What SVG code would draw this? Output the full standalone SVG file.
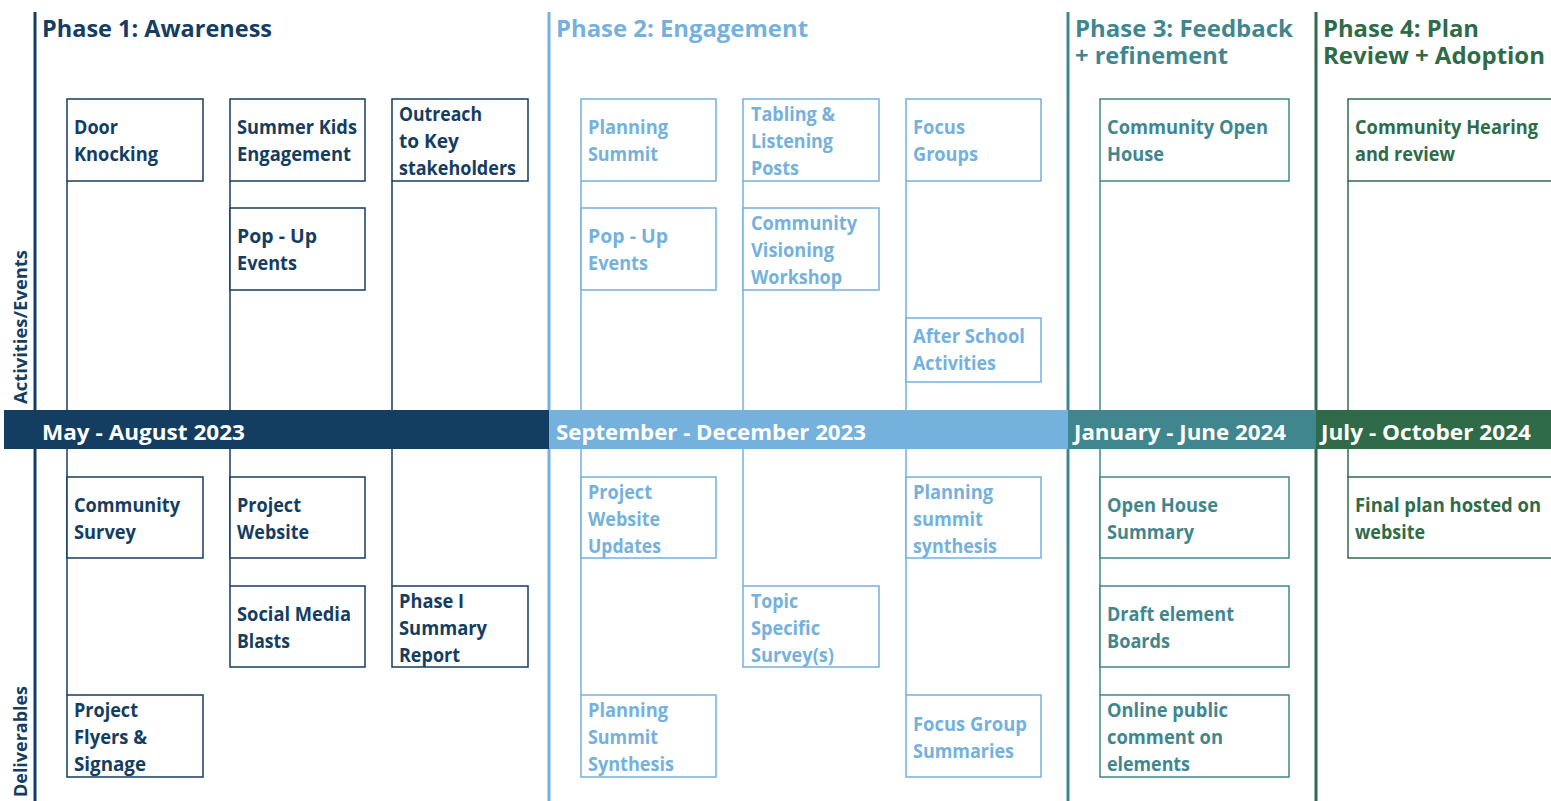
<svg xmlns="http://www.w3.org/2000/svg" width="1551" height="801" viewBox="0 0 1551 801">
<style>
text{font-family:"Open Sans","Noto Sans","Liberation Sans",sans-serif;font-weight:700}
.t{font-size:23px}
.b{font-size:22px;fill:#fff}
.n{font-size:19px}
.side{font-size:18px;fill:#143d62}
rect.box{fill:#fff;stroke-width:1.5}
.p1 rect.box{stroke:#143d62}.p1 text{fill:#143d62}
.p2 rect.box{stroke:#75b1dd}.p2 text{fill:#75b1dd}
.p3 rect.box{stroke:#3f868f}.p3 text{fill:#3f868f}
.p4 rect.box{stroke:#2f6b48}.p4 text{fill:#2f6b48}
.c1{stroke:#143d62;stroke-width:1.5}.c2{stroke:#75b1dd;stroke-width:1.5}.c3{stroke:#3f868f;stroke-width:1.5}.c4{stroke:#2f6b48;stroke-width:1.5}
.ph{stroke-width:3}
</style>
<rect width="1551" height="801" fill="#fff"/>

<!-- phase dividers -->
<g id="phase-lines">
<line class="ph" x1="35" y1="12" x2="35" y2="801" stroke="#143d62"/>
<line class="ph" x1="549" y1="12" x2="549" y2="801" stroke="#75b1dd"/>
<line class="ph" x1="1068" y1="12" x2="1068" y2="801" stroke="#3f868f"/>
<line class="ph" x1="1316" y1="12" x2="1316" y2="801" stroke="#2f6b48"/>
</g>

<!-- titles -->
<g id="titles">
<text class="t" x="42" y="37" fill="#143d62" textLength="230" lengthAdjust="spacingAndGlyphs">Phase 1: Awareness</text>
<text class="t" x="556" y="37" fill="#75b1dd" textLength="252" lengthAdjust="spacingAndGlyphs">Phase 2: Engagement</text>
<text class="t" x="1075" y="37" fill="#3f868f" textLength="218" lengthAdjust="spacingAndGlyphs">Phase 3: Feedback</text>
<text class="t" x="1075" y="64" fill="#3f868f" textLength="153" lengthAdjust="spacingAndGlyphs">+ refinement</text>
<text class="t" x="1323" y="37" fill="#2f6b48" textLength="156" lengthAdjust="spacingAndGlyphs">Phase 4: Plan</text>
<text class="t" x="1323" y="64" fill="#2f6b48" textLength="222" lengthAdjust="spacingAndGlyphs">Review + Adoption</text>
</g>

<g id="side-labels">
<text class="side" transform="translate(27,404) rotate(-90)" textLength="154" lengthAdjust="spacingAndGlyphs">Activities/Events</text>
<text class="side" transform="translate(27,797) rotate(-90)" textLength="111" lengthAdjust="spacingAndGlyphs">Deliverables</text>
</g>

<!-- connectors -->
<g id="connectors">
<line class="c1" x1="67" y1="181" x2="67" y2="695"/>
<line class="c1" x1="230" y1="181" x2="230" y2="586"/>
<line class="c1" x1="392" y1="181" x2="392" y2="586"/>
<line class="c2" x1="581" y1="181" x2="581" y2="695"/>
<line class="c2" x1="743" y1="181" x2="743" y2="586"/>
<line class="c2" x1="906" y1="181" x2="906" y2="695"/>
<line class="c3" x1="1100" y1="181" x2="1100" y2="695"/>
<line class="c4" x1="1348" y1="181" x2="1348" y2="477"/>
</g>

<!-- timeline band -->
<g id="band">
<rect x="4" y="410" width="545" height="39" fill="#143d62"/>
<rect x="549" y="410" width="519" height="39" fill="#75b1dd"/>
<rect x="1068" y="410" width="248" height="39" fill="#3f868f"/>
<rect x="1316" y="410" width="235" height="39" fill="#2f6b48"/>
<text class="b" x="42" y="440" textLength="203" lengthAdjust="spacingAndGlyphs">May - August 2023</text>
<text class="b" x="556" y="440" textLength="310" lengthAdjust="spacingAndGlyphs">September - December 2023</text>
<text class="b" x="1074" y="440" textLength="212" lengthAdjust="spacingAndGlyphs">January - June 2024</text>
<text class="b" x="1321" y="440" textLength="210" lengthAdjust="spacingAndGlyphs">July - October 2024</text>
</g>

<!-- Phase 1 nodes -->
<g id="door-knocking" class="p1"><rect class="box" x="67" y="99" width="136" height="82"/>
<text class="n" x="74" y="134" textLength="44" lengthAdjust="spacingAndGlyphs">Door</text><text class="n" x="74" y="161" textLength="84" lengthAdjust="spacingAndGlyphs">Knocking</text></g>
<g id="summer-kids" class="p1"><rect class="box" x="230" y="99" width="135" height="82"/>
<text class="n" x="237" y="134" textLength="120" lengthAdjust="spacingAndGlyphs">Summer Kids</text><text class="n" x="237" y="161" textLength="114" lengthAdjust="spacingAndGlyphs">Engagement</text></g>
<g id="outreach" class="p1"><rect class="box" x="392" y="99" width="136" height="82"/>
<text class="n" x="399" y="121" textLength="83" lengthAdjust="spacingAndGlyphs">Outreach</text><text class="n" x="399" y="148" textLength="60" lengthAdjust="spacingAndGlyphs">to Key</text><text class="n" x="399" y="175" textLength="117" lengthAdjust="spacingAndGlyphs">stakeholders</text></g>
<g id="popup-1" class="p1"><rect class="box" x="230" y="208" width="135" height="82"/>
<text class="n" x="237" y="243" textLength="80" lengthAdjust="spacingAndGlyphs">Pop - Up</text><text class="n" x="237" y="270" textLength="60" lengthAdjust="spacingAndGlyphs">Events</text></g>
<g id="community-survey" class="p1"><rect class="box" x="67" y="477" width="136" height="81"/>
<text class="n" x="74" y="512" textLength="106" lengthAdjust="spacingAndGlyphs">Community</text><text class="n" x="74" y="539" textLength="62" lengthAdjust="spacingAndGlyphs">Survey</text></g>
<g id="project-website" class="p1"><rect class="box" x="230" y="477" width="135" height="81"/>
<text class="n" x="237" y="512" textLength="64" lengthAdjust="spacingAndGlyphs">Project</text><text class="n" x="237" y="539" textLength="72" lengthAdjust="spacingAndGlyphs">Website</text></g>
<g id="social-media" class="p1"><rect class="box" x="230" y="586" width="135" height="81"/>
<text class="n" x="237" y="621" textLength="114" lengthAdjust="spacingAndGlyphs">Social Media</text><text class="n" x="237" y="648" textLength="53" lengthAdjust="spacingAndGlyphs">Blasts</text></g>
<g id="phase1-report" class="p1"><rect class="box" x="392" y="586" width="136" height="81"/>
<text class="n" x="399" y="608" textLength="65" lengthAdjust="spacingAndGlyphs">Phase I</text><text class="n" x="399" y="635" textLength="88" lengthAdjust="spacingAndGlyphs">Summary</text><text class="n" x="399" y="662" textLength="61" lengthAdjust="spacingAndGlyphs">Report</text></g>
<g id="flyers" class="p1"><rect class="box" x="67" y="695" width="136" height="82"/>
<text class="n" x="74" y="717" textLength="64" lengthAdjust="spacingAndGlyphs">Project</text><text class="n" x="74" y="744" textLength="73" lengthAdjust="spacingAndGlyphs">Flyers &amp;</text><text class="n" x="74" y="771" textLength="72" lengthAdjust="spacingAndGlyphs">Signage</text></g>

<!-- Phase 2 nodes -->
<g id="planning-summit" class="p2"><rect class="box" x="581" y="99" width="135" height="82"/>
<text class="n" x="588" y="134" textLength="80" lengthAdjust="spacingAndGlyphs">Planning</text><text class="n" x="588" y="161" textLength="70" lengthAdjust="spacingAndGlyphs">Summit</text></g>
<g id="tabling" class="p2"><rect class="box" x="743" y="99" width="136" height="82"/>
<text class="n" x="751" y="121" textLength="84" lengthAdjust="spacingAndGlyphs">Tabling &amp;</text><text class="n" x="751" y="148" textLength="82" lengthAdjust="spacingAndGlyphs">Listening</text><text class="n" x="751" y="175" textLength="48" lengthAdjust="spacingAndGlyphs">Posts</text></g>
<g id="focus-groups" class="p2"><rect class="box" x="906" y="99" width="135" height="82"/>
<text class="n" x="913" y="134" textLength="52" lengthAdjust="spacingAndGlyphs">Focus</text><text class="n" x="913" y="161" textLength="65" lengthAdjust="spacingAndGlyphs">Groups</text></g>
<g id="popup-2" class="p2"><rect class="box" x="581" y="208" width="135" height="82"/>
<text class="n" x="588" y="243" textLength="80" lengthAdjust="spacingAndGlyphs">Pop - Up</text><text class="n" x="588" y="270" textLength="60" lengthAdjust="spacingAndGlyphs">Events</text></g>
<g id="visioning" class="p2"><rect class="box" x="743" y="208" width="136" height="82"/>
<text class="n" x="751" y="230" textLength="106" lengthAdjust="spacingAndGlyphs">Community</text><text class="n" x="751" y="257" textLength="83" lengthAdjust="spacingAndGlyphs">Visioning</text><text class="n" x="751" y="284" textLength="91" lengthAdjust="spacingAndGlyphs">Workshop</text></g>
<g id="after-school" class="p2"><rect class="box" x="906" y="318" width="135" height="64"/>
<text class="n" x="913" y="343" textLength="112" lengthAdjust="spacingAndGlyphs">After School</text><text class="n" x="913" y="370" textLength="83" lengthAdjust="spacingAndGlyphs">Activities</text></g>
<g id="website-updates" class="p2"><rect class="box" x="581" y="477" width="135" height="81"/>
<text class="n" x="588" y="499" textLength="64" lengthAdjust="spacingAndGlyphs">Project</text><text class="n" x="588" y="526" textLength="72" lengthAdjust="spacingAndGlyphs">Website</text><text class="n" x="588" y="553" textLength="73" lengthAdjust="spacingAndGlyphs">Updates</text></g>
<g id="summit-synthesis-2" class="p2"><rect class="box" x="906" y="477" width="135" height="81"/>
<text class="n" x="913" y="499" textLength="80" lengthAdjust="spacingAndGlyphs">Planning</text><text class="n" x="913" y="526" textLength="70" lengthAdjust="spacingAndGlyphs">summit</text><text class="n" x="913" y="553" textLength="84" lengthAdjust="spacingAndGlyphs">synthesis</text></g>
<g id="topic-survey" class="p2"><rect class="box" x="743" y="586" width="136" height="81"/>
<text class="n" x="751" y="608" textLength="47" lengthAdjust="spacingAndGlyphs">Topic</text><text class="n" x="751" y="635" textLength="69" lengthAdjust="spacingAndGlyphs">Specific</text><text class="n" x="751" y="662" textLength="83" lengthAdjust="spacingAndGlyphs">Survey(s)</text></g>
<g id="summit-synthesis" class="p2"><rect class="box" x="581" y="695" width="135" height="82"/>
<text class="n" x="588" y="717" textLength="80" lengthAdjust="spacingAndGlyphs">Planning</text><text class="n" x="588" y="744" textLength="70" lengthAdjust="spacingAndGlyphs">Summit</text><text class="n" x="588" y="771" textLength="86" lengthAdjust="spacingAndGlyphs">Synthesis</text></g>
<g id="focus-summaries" class="p2"><rect class="box" x="906" y="695" width="135" height="82"/>
<text class="n" x="913" y="731" textLength="114" lengthAdjust="spacingAndGlyphs">Focus Group</text><text class="n" x="913" y="758" textLength="101" lengthAdjust="spacingAndGlyphs">Summaries</text></g>

<!-- Phase 3 nodes -->
<g id="open-house" class="p3"><rect class="box" x="1100" y="99" width="189" height="82"/>
<text class="n" x="1107" y="134" textLength="161" lengthAdjust="spacingAndGlyphs">Community Open</text><text class="n" x="1107" y="161" textLength="57" lengthAdjust="spacingAndGlyphs">House</text></g>
<g id="open-house-summary" class="p3"><rect class="box" x="1100" y="477" width="189" height="81"/>
<text class="n" x="1107" y="512" textLength="111" lengthAdjust="spacingAndGlyphs">Open House</text><text class="n" x="1107" y="539" textLength="87" lengthAdjust="spacingAndGlyphs">Summary</text></g>
<g id="draft-boards" class="p3"><rect class="box" x="1100" y="586" width="189" height="81"/>
<text class="n" x="1107" y="621" textLength="127" lengthAdjust="spacingAndGlyphs">Draft element</text><text class="n" x="1107" y="648" textLength="63" lengthAdjust="spacingAndGlyphs">Boards</text></g>
<g id="online-comment" class="p3"><rect class="box" x="1100" y="695" width="189" height="82"/>
<text class="n" x="1107" y="717" textLength="121" lengthAdjust="spacingAndGlyphs">Online public</text><text class="n" x="1107" y="744" textLength="116" lengthAdjust="spacingAndGlyphs">comment on</text><text class="n" x="1107" y="771" textLength="83" lengthAdjust="spacingAndGlyphs">elements</text></g>

<!-- Phase 4 nodes -->
<g id="hearing" class="p4"><rect class="box" x="1348" y="99" width="215" height="82"/>
<text class="n" x="1355" y="134" textLength="183" lengthAdjust="spacingAndGlyphs">Community Hearing</text><text class="n" x="1355" y="161" textLength="100" lengthAdjust="spacingAndGlyphs">and review</text></g>
<g id="final-plan" class="p4"><rect class="box" x="1348" y="477" width="215" height="81"/>
<text class="n" x="1355" y="512" textLength="186" lengthAdjust="spacingAndGlyphs">Final plan hosted on</text><text class="n" x="1355" y="539" textLength="70" lengthAdjust="spacingAndGlyphs">website</text></g>
</svg>
